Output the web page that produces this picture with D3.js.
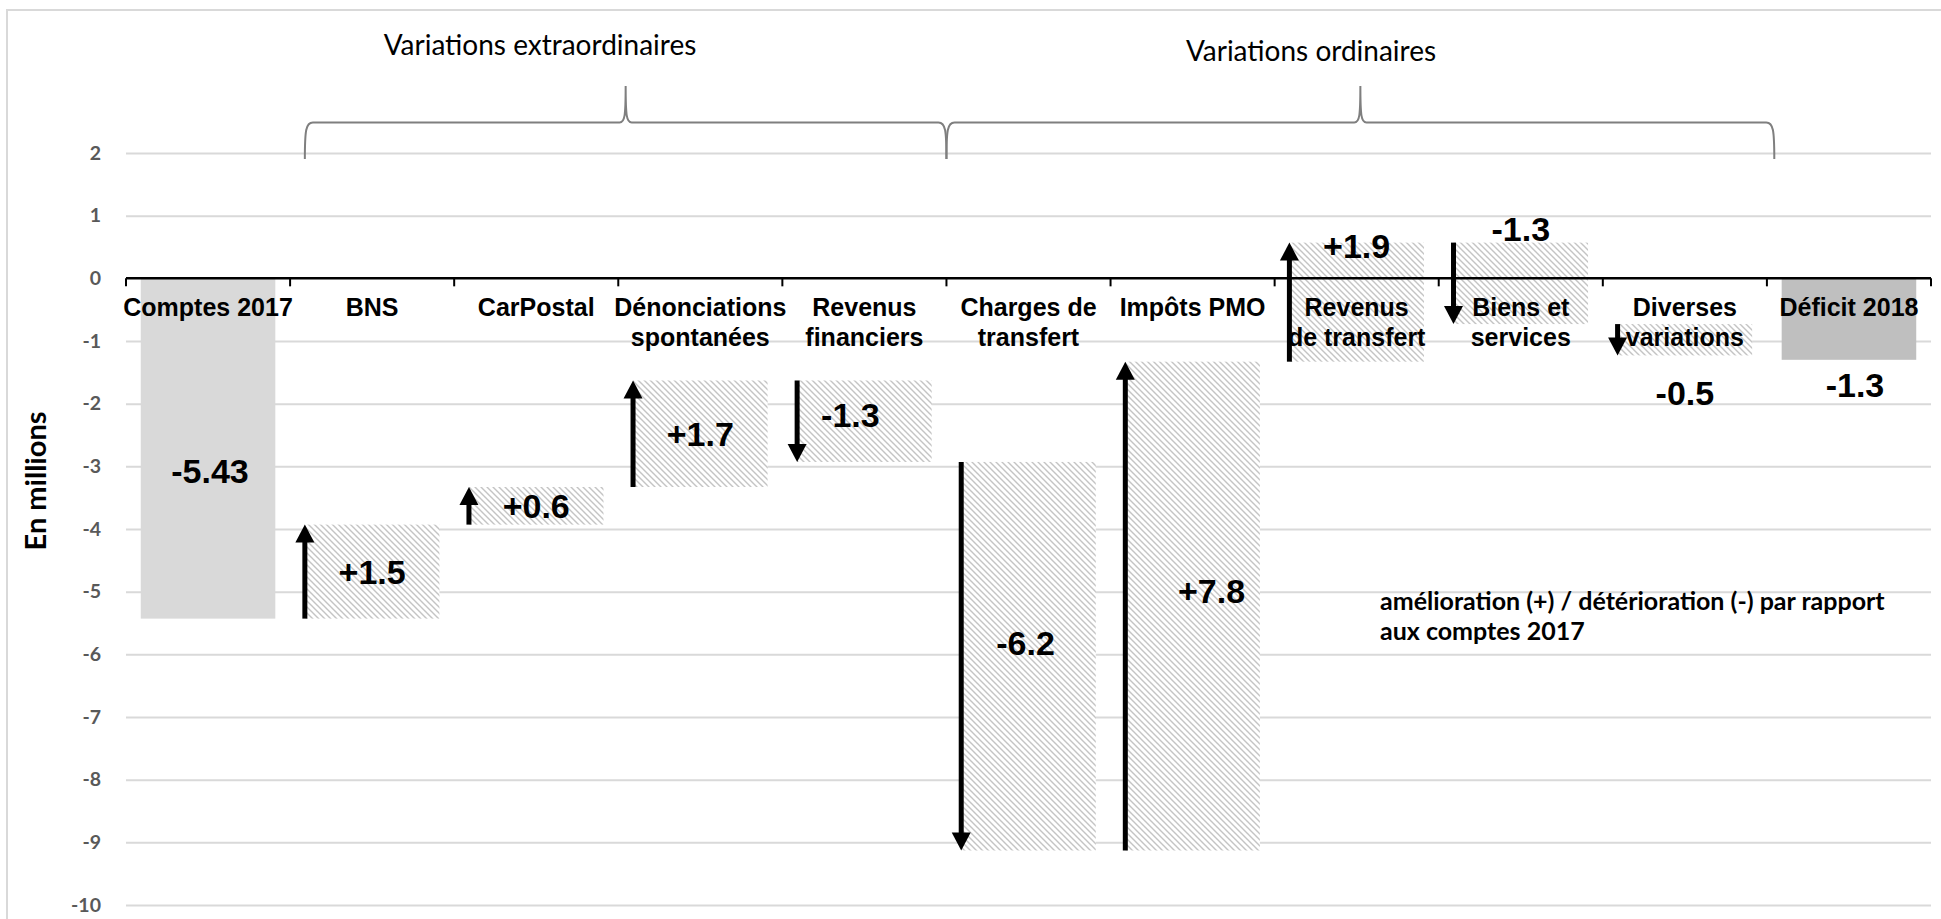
<!DOCTYPE html>
<html>
<head>
<meta charset="utf-8">
<script src="https://cdn.jsdelivr.net/npm/d3@7"></script>
<style>
  html, body { margin: 0; padding: 0; background: #ffffff; }
  svg { display: block; }
</style>
</head>
<body>
<svg id="chart" width="1941" height="919"></svg>
<script>
// catégories de l'axe x (une entrée par ligne de texte)
const categories = ['Comptes 2017', 'BNS', 'CarPostal', 'Dénonciations spontanées', 'Revenus financiers',
  'Charges de transfert', 'Impôts PMO', 'Revenus de transfert', 'Biens et services', 'Diverses variations', 'Déficit 2018'];
const categoryLines = [['Comptes 2017'], ['BNS'], ['CarPostal'], ['Dénonciations', 'spontanées'], ['Revenus', 'financiers'],
  ['Charges de', 'transfert'], ['Impôts PMO'], ['Revenus', 'de transfert'], ['Biens et', 'services'], ['Diverses', 'variations'], ['Déficit 2018']];

// valeurs (en millions) : total de départ, variations, total final
const values = [-5.43, 1.5, 0.6, 1.7, -1.3, -6.2, 7.8, 1.9, -1.3, -0.5, -1.3];
const kinds = ['total', 'delta', 'delta', 'delta', 'delta', 'delta', 'delta', 'delta', 'delta', 'delta', 'total'];
const valueLabels = ['-5.43', '+1.5', '+0.6', '+1.7', '-1.3', '-6.2', '+7.8', '+1.9', '-1.3', '-0.5', '-1.3'];

// graduations de l'axe y
const yTicks = [2, 1, 0, -1, -2, -3, -4, -5, -6, -7, -8, -9, -10];

// groupes (accolades) : premier et dernier élément couvert
const groupLabels = ['Variations extraordinaires', 'Variations ordinaires'];
const groupFrom = ['BNS', 'Charges de transfert'];
const groupTo = ['Revenus financiers', 'Diverses variations'];

const noteLines = ['amélioration (+) / détérioration (-) par rapport', 'aux comptes 2017'];
const yTitle = 'En millions';

const svg = d3.select('#chart');
const margin = { left: 126, right: 10, top: 153, bottom: 14 };
const plotRight = 1931, plotBottom = 905;

const xScale = d3.scaleBand()
  .domain(categories)
  .range([margin.left, plotRight])
  .paddingInner(0.18)
  .paddingOuter(0.09);
const step = xScale.step();
const boundary = i => margin.left + i * step; // séparation entre catégories

const yScale = d3.scaleLinear()
  .domain([-10, 2])
  .range([plotBottom, margin.top]);

// calcul des débuts / fins de chaque barre de la cascade
let running = 0;
const bars = categories.map((c, i) => {
  let start, end;
  if (kinds[i] === 'total') { start = 0; end = values[i]; running = values[i]; }
  else { start = running; end = running + values[i]; running = end; }
  return { cat: c, i, start, end, kind: kinds[i], label: valueLabels[i] };
});

// hachures
const defs = svg.append('defs');
const pat = defs.append('pattern')
  .attr('id', 'hatch')
  .attr('patternUnits', 'userSpaceOnUse')
  .attr('width', 6).attr('height', 6);
pat.append('rect').attr('width', 6).attr('height', 6).attr('fill', '#ffffff');
pat.append('path')
  .attr('d', 'M-1,-1 L7,7 M-1,5 L1,7 M5,-1 L7,1')
  .attr('stroke', '#c4c4c4')
  .attr('stroke-width', 1.4);

// cadre
svg.append('rect')
  .attr('x', 7).attr('y', 10)
  .attr('width', 1960).attr('height', 940)
  .attr('fill', 'none')
  .attr('stroke', '#d9d9d9')
  .attr('stroke-width', 2);

// grille horizontale
const yGrid = d3.axisLeft(yScale).tickValues(yTicks.filter(d => d !== 0)).tickSize(-(plotRight - margin.left)).tickFormat('');
svg.append('g')
  .attr('transform', `translate(${margin.left},0)`)
  .call(yGrid)
  .call(g => g.select('.domain').remove())
  .selectAll('.tick line')
  .attr('stroke', '#d9d9d9')
  .attr('stroke-width', 2);

// étiquettes de l'axe y (trait d'union simple comme dans l'original)
const yAxis = d3.axisLeft(yScale).tickValues(yTicks).tickSize(0).tickPadding(0).tickFormat(d => String(d));
svg.append('g')
  .attr('transform', `translate(101,0)`)
  .call(yAxis)
  .call(g => g.select('.domain').remove())
  .selectAll('.tick text')
  .attr('font-family', 'Lato, sans-serif')
  .attr('font-weight', 'bold')
  .attr('font-size', '19.5px')
  .attr('fill', '#595959');

svg.append('text')
  .attr('transform', `translate(46, 481) rotate(-90)`)
  .attr('text-anchor', 'middle')
  .attr('font-family', 'Lato, sans-serif')
  .attr('font-weight', 'bold')
  .attr('font-size', '29px')
  .attr('fill', '#000000')
  .text(yTitle);

// barres
svg.append('g').selectAll('rect')
  .data(bars)
  .enter()
  .append('rect')
  .attr('x', d => xScale(d.cat))
  .attr('width', xScale.bandwidth())
  .attr('y', d => yScale(Math.max(d.start, d.end)))
  .attr('height', d => Math.abs(yScale(d.start) - yScale(d.end)))
  .attr('fill', d => d.kind === 'delta' ? 'url(#hatch)' : (d.i === 0 ? '#d9d9d9' : '#bfbfbf'));

// flèches noires le long des variations
const arrows = svg.append('g');
bars.filter(d => d.kind === 'delta').forEach(d => {
  const ax = xScale(d.cat);
  const y0 = yScale(d.start), y1 = yScale(d.end);
  const dir = d.end > d.start ? 1 : -1; // 1 = vers le haut
  const head = 18, half = 9.5;
  arrows.append('line')
    .attr('x1', ax).attr('x2', ax)
    .attr('y1', y0).attr('y2', y1 + dir * (head - 2))
    .attr('stroke', '#000000')
    .attr('stroke-width', 5);
  arrows.append('path')
    .attr('d', `M${ax},${y1} L${ax - half},${y1 + dir * head} L${ax + half},${y1 + dir * head} Z`)
    .attr('fill', '#000000');
});

// axe des x (ligne zéro) et graduations
const y0 = yScale(0);
svg.append('line')
  .attr('x1', margin.left).attr('x2', plotRight)
  .attr('y1', y0).attr('y2', y0)
  .attr('stroke', '#000000')
  .attr('stroke-width', 2.5);
svg.append('g').selectAll('line')
  .data(d3.range(categories.length + 1))
  .enter()
  .append('line')
  .attr('x1', i => boundary(i)).attr('x2', i => boundary(i))
  .attr('y1', y0).attr('y2', y0 + 8)
  .attr('stroke', '#000000')
  .attr('stroke-width', 2);

// libellés des catégories
const catG = svg.append('g')
  .attr('font-family', '"Liberation Sans", Arial, sans-serif')
  .attr('font-weight', 'bold')
  .attr('font-size', '25px')
  .attr('fill', '#000000')
  .attr('text-anchor', 'middle');
categoryLines.forEach((lines, i) => {
  const cx = xScale(categories[i]) + xScale.bandwidth() / 2;
  lines.forEach((t, k) => {
    catG.append('text')
      .attr('x', cx)
      .attr('y', y0 + 38 + k * 30)
      .text(t);
  });
});

// étiquettes de valeurs : position par rapport à la barre
const labelPlace = {
  'Comptes 2017': { at: 'mid', dx: 2, dy: 22 },
  'Revenus financiers': { at: 'mid', dx: -14, dy: -6 },
  'Charges de transfert': { at: 'mid', dx: -3, dy: -13 },
  'Impôts PMO': { at: 'mid', dx: 19, dy: -15 },
  'Revenus de transfert': { at: 'top', dx: 0, dy: 3 },
  'Biens et services': { at: 'top', dx: 0, dy: -14 },
  'Diverses variations': { at: 'bottom', dx: 0, dy: 37 },
  'Déficit 2018': { at: 'bottom', dx: 6, dy: 25 }
};
svg.append('g')
  .attr('font-family', '"Liberation Sans", Arial, sans-serif')
  .attr('font-weight', 'bold')
  .attr('font-size', '34px')
  .attr('fill', '#000000')
  .attr('text-anchor', 'middle')
  .selectAll('text')
  .data(bars)
  .enter()
  .append('text')
  .attr('x', d => xScale(d.cat) + xScale.bandwidth() / 2 + (labelPlace[d.cat] ? labelPlace[d.cat].dx : 0))
  .attr('y', d => {
    const p = labelPlace[d.cat] || { at: 'mid', dy: 0 };
    const top = yScale(Math.max(d.start, d.end)), bot = yScale(Math.min(d.start, d.end));
    const base = p.at === 'top' ? top : (p.at === 'bottom' ? bot : (top + bot) / 2);
    return base + p.dy;
  })
  .attr('dy', '0.36em')
  .text(d => d.label);

// accolades des groupes
function bracePath(xa, xb) {
  const yEnd = 159, yMid = 122.5, yTip = 86, xc = (xa + xb) / 2;
  return `M${xa},${yEnd} C${xa},${yMid + 8} ${xa + 1},${yMid} ${xa + 8},${yMid}` +
    ` L${xc - 6},${yMid} C${xc - 1},${yMid} ${xc},${yMid - 6} ${xc},${yTip}` +
    ` C${xc},${yMid - 6} ${xc + 1},${yMid} ${xc + 6},${yMid}` +
    ` L${xb - 8},${yMid} C${xb - 1},${yMid} ${xb},${yMid + 8} ${xb},${yEnd}`;
}
const braceStart = [xScale(groupFrom[0]), boundary(categories.indexOf(groupFrom[1]))];
const braceEnd = [boundary(categories.indexOf(groupTo[0]) + 1),
  (boundary(categories.indexOf(groupTo[1]) + 1) + xScale(categories[categories.indexOf(groupTo[1]) + 1])) / 2];
const headX = [540, 1311], headY = [55, 61];
groupLabels.forEach((g, i) => {
  svg.append('path')
    .attr('d', bracePath(braceStart[i], braceEnd[i]))
    .attr('fill', 'none')
    .attr('stroke', '#7f7f7f')
    .attr('stroke-width', 2);
  svg.append('text')
    .attr('x', headX[i]).attr('y', headY[i])
    .attr('text-anchor', 'middle')
    .attr('font-family', 'Lato, sans-serif')
    .attr('font-size', '28px')
    .attr('fill', '#000000')
    .text(g);
});

// note explicative
noteLines.forEach((t, k) => {
  svg.append('text')
    .attr('x', 1380).attr('y', 610 + k * 30)
    .attr('font-family', 'Lato, sans-serif')
    .attr('font-weight', 'bold')
    .attr('font-size', '25px')
    .attr('fill', '#000000')
    .text(t);
});
</script>
</body>
</html>
